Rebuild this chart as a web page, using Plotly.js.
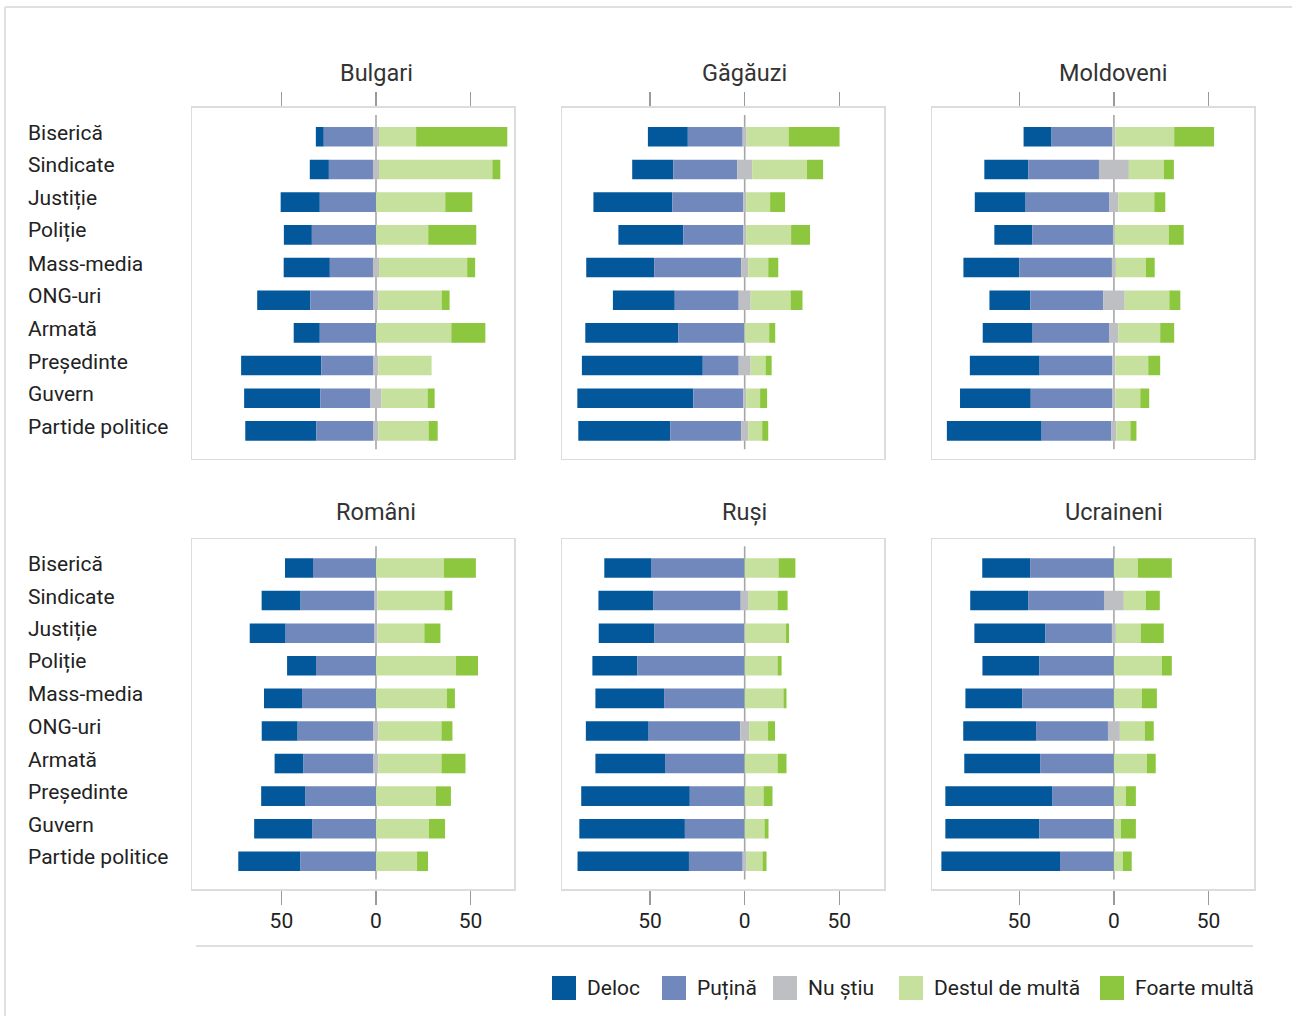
<!DOCTYPE html>
<html><head><meta charset="utf-8">
<script src="https://cdn.plot.ly/plotly-3.0.1.min.js"></script>
<style>html,body{margin:0;padding:0;background:#fff}</style>
</head><body><div id="chart" style="width:1293px;height:1016px"></div>
<script>
// ---------- DATA ----------
const categories = ['Biserică','Sindicate','Justiție','Poliție','Mass-media','ONG-uri','Armată','Președinte','Guvern','Partide politice'];
const groups = ['Bulgari','Găgăuzi','Moldoveni','Români','Ruși','Ucraineni'];
const seriesNames = ['Deloc','Puțină','Nu știu','Destul de multă','Foarte multă'];
const seriesColors = ['#03589b','#7088bb','#bebfc3','#c6e09e','#8dc63f'];

const bulgariDeloc  = [4.2, 10.1, 20.7, 14.8, 24.4, 28.1, 13.8, 42.4, 40.3, 37.6];
const bulgariPutina = [26.0, 23.3, 29.7, 33.9, 22.8, 33.4, 29.7, 27.6, 26.5, 30.2];
const bulgariNuStiu = [3.2, 3.2, 0, 0, 3.2, 2.6, 0, 2.6, 5.8, 2.6];
const bulgariDestul = [19.6, 59.9, 36.6, 27.6, 46.6, 33.4, 39.8, 28.1, 24.4, 26.5];
const bulgariFoarte = [48.2, 4.2, 14.3, 25.4, 4.2, 4.2, 18.0, 0, 3.7, 4.8];

const gagauziDeloc  = [21.1, 21.7, 41.7, 34.3, 35.9, 32.7, 49.1, 63.9, 61.3, 48.6];
const gagauziPutina = [29.0, 33.8, 37.5, 31.7, 46.0, 33.8, 34.9, 19.0, 26.4, 37.5];
const gagauziNuStiu = [2.1, 7.9, 1.5, 1.5, 3.7, 6.3, 0.5, 6.3, 1.5, 3.7];
const gagauziDestul = [22.2, 29.0, 12.7, 23.8, 10.6, 21.1, 12.7, 7.9, 7.4, 7.4];
const gagauziFoarte = [26.9, 8.5, 7.9, 10.0, 5.3, 6.3, 3.2, 3.2, 3.7, 3.2];

const moldoveniDeloc  = [14.8, 23.2, 26.9, 20.0, 29.5, 21.6, 26.4, 36.9, 37.4, 50.1];
const moldoveniPutina = [32.2, 37.4, 44.3, 42.7, 49.0, 38.5, 40.6, 38.5, 43.2, 36.9];
const moldoveniNuStiu = [1.5, 15.8, 4.7, 1.0, 2.1, 11.4, 4.7, 1.5, 1.5, 2.6];
const moldoveniDestul = [31.1, 18.5, 19.0, 28.5, 15.8, 23.6, 22.1, 17.4, 13.2, 7.4];
const moldoveniFoarte = [21.1, 5.3, 5.8, 7.9, 4.7, 5.8, 7.4, 6.3, 4.7, 3.2];

const romaniDeloc  = [14.8, 20.6, 19.0, 15.3, 20.1, 19.0, 15.3, 23.2, 30.6, 32.7];
const romaniPutina = [33.3, 39.1, 47.0, 31.7, 39.1, 40.1, 37.0, 37.5, 33.8, 40.1];
const romaniNuStiu = [0, 1.5, 1.5, 0, 0, 2.6, 2.6, 0, 0, 0];
const romaniDestul = [35.9, 35.4, 24.8, 42.3, 37.5, 33.3, 33.3, 31.7, 28.0, 21.7];
const romaniFoarte = [16.9, 4.2, 8.5, 11.6, 4.2, 5.8, 12.7, 7.9, 8.5, 5.8];

const rusiDeloc  = [24.7, 28.9, 29.5, 23.7, 36.3, 33.2, 36.8, 57.4, 55.8, 58.9];
const rusiPutina = [49.5, 46.3, 47.4, 56.8, 42.6, 48.4, 42.1, 29.0, 31.6, 28.4];
const rusiNuStiu = [0, 4.2, 0.5, 0, 0, 4.7, 0, 0, 0, 2.1];
const rusiDestul = [17.9, 15.3, 21.6, 17.4, 20.5, 10.0, 17.4, 10.0, 10.5, 8.4];
const rusiFoarte = [8.9, 5.3, 1.6, 2.1, 1.6, 3.7, 4.7, 4.7, 2.1, 2.1];

const ucraineniDeloc  = [25.3, 30.6, 37.4, 30.0, 30.0, 38.5, 40.1, 56.4, 49.6, 62.7];
const ucraineniPutina = [44.3, 40.1, 35.3, 39.5, 48.5, 38.0, 39.0, 32.7, 39.5, 28.5];
const ucraineniNuStiu = [0, 10.5, 2.1, 0, 0, 6.3, 0, 0, 0, 0];
const ucraineniDestul = [12.7, 11.6, 13.2, 25.3, 14.8, 13.2, 17.4, 6.3, 3.7, 4.7];
const ucraineniFoarte = [17.9, 7.4, 12.1, 5.3, 7.9, 4.7, 4.7, 5.3, 7.9, 4.7];

const tickVals = [-50, 0, 50];
const tickText = ['50', '0', '50'];

// ---------- LAYOUT HELPERS ----------
const W = 1293, H = 1016;
const px = x => x / W;
const py = y => 1 - y / H;
const FONT = 'Roboto, "Liberation Sans", Arial, sans-serif';

const panelData = [
  [bulgariDeloc, bulgariPutina, bulgariNuStiu, bulgariDestul, bulgariFoarte],
  [gagauziDeloc, gagauziPutina, gagauziNuStiu, gagauziDestul, gagauziFoarte],
  [moldoveniDeloc, moldoveniPutina, moldoveniNuStiu, moldoveniDestul, moldoveniFoarte],
  [romaniDeloc, romaniPutina, romaniNuStiu, romaniDestul, romaniFoarte],
  [rusiDeloc, rusiPutina, rusiNuStiu, rusiDestul, rusiFoarte],
  [ucraineniDeloc, ucraineniPutina, ucraineniNuStiu, ucraineniDestul, ucraineniFoarte]
];

const colsPx = [[192.3, 514.3], [562.3, 884.3], [932.3, 1254.3]];
const rowsPx = [[107.7, 458.7], [539, 889]];
const titleY = [73, 512];
const colRanges = [[-97.1, 73.1], [-96.4, 73.8], [-96.0, 74.2]];
const yRange = [9.85, -0.89];

const traces = [];
const layout = {
  width: W, height: H,
  margin: {l: 0, r: 0, t: 0, b: 0},
  paper_bgcolor: '#ffffff', plot_bgcolor: '#ffffff',
  barmode: 'overlay',
  showlegend: false,
  font: {family: FONT, color: '#222'},
  annotations: [], shapes: []
};

panelData.forEach((d, i) => {
  const [deloc, putina, ns, destul, foarte] = d;
  const n = i + 1;
  const xa = 'x' + (n === 1 ? '' : n), ya = 'y' + (n === 1 ? '' : n);
  const col = i % 3, row = Math.floor(i / 3);
  const bases = [
    deloc.map((v, k) => -(ns[k] / 2 + putina[k] + v)),
    putina.map((v, k) => -(ns[k] / 2 + v)),
    ns.map(v => -v / 2),
    destul.map((v, k) => ns[k] / 2),
    foarte.map((v, k) => ns[k] / 2 + destul[k])
  ];
  d.forEach((vals, s) => {
    traces.push({
      type: 'bar', orientation: 'h',
      y: categories, x: vals, base: bases[s],
      width: 0.6,
      marker: {color: seriesColors[s], line: {width: 0}},
      name: seriesNames[s],
      xaxis: xa, yaxis: ya,
      showlegend: false,
      hovertemplate: seriesNames[s] + ': %{x}<extra>%{y}</extra>'
    });
  });
  const top = row === 0;
  layout['xaxis' + (n === 1 ? '' : n)] = {
    domain: [px(colsPx[col][0]), px(colsPx[col][1])],
    anchor: ya, range: colRanges[col], fixedrange: true,
    side: top ? 'top' : 'bottom',
    showgrid: false, zeroline: false,
    showline: true, mirror: true, linecolor: '#dcdcdc', linewidth: 1.5,
    ticks: 'outside', ticklen: 14, tickwidth: 1.5, tickcolor: '#9a9a9a',
    tickmode: 'array', tickvals: tickVals, ticktext: tickText,
    showticklabels: !top,
    tickfont: {size: 21, color: '#222', family: FONT},
    ticklabelstandoff: -2
  };
  layout['yaxis' + (n === 1 ? '' : n)] = {
    domain: [py(rowsPx[row][1]), py(rowsPx[row][0])],
    anchor: xa, type: 'category', range: yRange, fixedrange: true,
    showgrid: false, zeroline: false,
    showline: true, mirror: true, linecolor: '#dcdcdc', linewidth: 1.5,
    ticks: '', showticklabels: false
  };
  // zero line
  layout.shapes.push({
    type: 'line', xref: xa, yref: ya, x0: 0, x1: 0, y0: -0.67, y1: 9.56,
    line: {color: '#a6a6a6', width: 1.6}, layer: 'below'
  });
  // panel title
  layout.annotations.push({
    text: groups[i], xref: xa, yref: 'paper', x: 0, y: py(titleY[row]),
    xanchor: 'center', yanchor: 'middle', showarrow: false,
    font: {size: 23.5, color: '#333', family: FONT}
  });
  // category labels (left column only)
  if (col === 0) {
    categories.forEach(c => {
      layout.annotations.push({
        text: c, xref: 'paper', yref: ya, x: px(26), y: c,
        xanchor: 'left', yanchor: 'middle', showarrow: false, yshift: 4,
        font: {size: 21, color: '#222', family: FONT}
      });
    });
  }
});

// outer frame (top and left edges visible)
layout.shapes.push({type: 'line', xref: 'paper', yref: 'paper', x0: px(5), x1: px(1292), y0: py(7), y1: py(7), line: {color: '#e0e0e0', width: 2}});
layout.shapes.push({type: 'line', xref: 'paper', yref: 'paper', x0: px(5), x1: px(5), y0: py(7), y1: py(1016), line: {color: '#e0e0e0', width: 2}});
// separator above legend
layout.shapes.push({type: 'line', xref: 'paper', yref: 'paper', x0: px(196), x1: px(1253), y0: py(946), y1: py(946), line: {color: '#d4d4d4', width: 1.5}});

// manual legend (large square swatches)
const legendX = [552, 662, 773, 899, 1100];
const legendY = 988, sw = 24;
seriesNames.forEach((nm, s) => {
  layout.shapes.push({
    type: 'rect', xref: 'paper', yref: 'paper',
    x0: px(legendX[s]), x1: px(legendX[s] + sw), y0: py(legendY + sw / 2), y1: py(legendY - sw / 2),
    fillcolor: seriesColors[s], line: {width: 0}
  });
  layout.annotations.push({
    text: nm, xref: 'paper', yref: 'paper', x: px(legendX[s] + sw + 9), y: py(legendY),
    xanchor: 'left', yanchor: 'middle', showarrow: false,
    font: {size: 21, color: '#222', family: FONT}
  });
});

Plotly.newPlot('chart', traces, layout, {displayModeBar: false, staticPlot: true});
</script></body></html>
